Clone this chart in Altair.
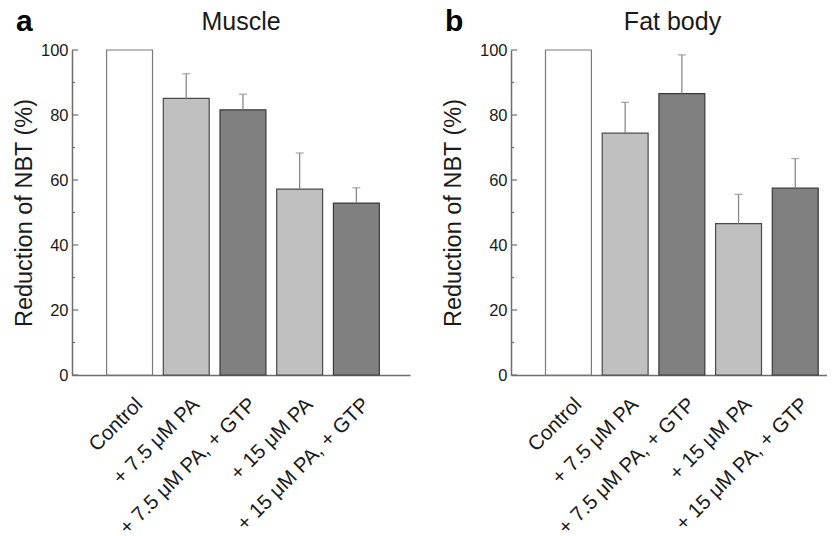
import altair as alt
import pandas as pd

categories = ["Control", "+ 7.5 μM PA", "+ 7.5 μM PA, + GTP", "+ 15 μM PA", "+ 15 μM PA, + GTP"]
groups = ["Control", "PA", "PA + GTP", "PA", "PA + GTP"]
muscle_mean = [100, 85.1, 81.6, 57.2, 52.9]
muscle_err = [0, 7.6, 4.8, 11.1, 4.7]
fat_mean = [100, 74.4, 86.6, 46.6, 57.5]
fat_err = [0, 9.5, 11.9, 9.0, 9.1]
major_ticks = [0, 20, 40, 60, 80, 100]
minor_ticks = [10, 30, 50, 70, 90]
group_names = ["Control", "PA", "PA + GTP"]
group_fill = ["#ffffff", "#c0c0c0", "#808080"]
group_stroke = ["#7a7a7a", "#4a4a4a", "#3a3a3a"]

FONT = "Liberation Sans"
TXT = "#1a1a1a"
AXC = "#6e6e6e"


def panel(title, letter, means, errs, width, pad_outer, align, title_pad, letter_x, title_x):
    df = pd.DataFrame({
        "cat": categories,
        "group": groups,
        "mean": means,
        "err": errs,
        "upper": [m + e for m, e in zip(means, errs)],
    })
    xscale = alt.Scale(domain=categories, paddingInner=0.19, paddingOuter=pad_outer, align=align)
    yscale = alt.Scale(domain=[0, 100], nice=False, zero=True)
    xaxis = alt.Axis(
        title=None, labelAngle=-45, labelAlign="right", labelBaseline="middle",
        labelFontSize=20.5, labelPadding=26, labelOffset=10, ticks=False,
        domainColor=AXC, domainWidth=1.5, labelColor=TXT, labelFont=FONT, labelLimit=400,
    )
    yaxis = alt.Axis(
        title="Reduction of NBT (%)", values=major_ticks, ticks=False, grid=False,
        labelFontSize=16.5, labelPadding=4, labelFont=FONT, labelColor=TXT,
        titleFontSize=23.5, titleFontWeight="normal", titleFont=FONT, titleColor=TXT,
        titlePadding=title_pad, domainColor=AXC, domainWidth=1.5,
    )
    x = alt.X("cat:N", scale=xscale, sort=categories, axis=xaxis)

    bars = alt.Chart(df).mark_bar(strokeWidth=1.2).encode(
        x=x,
        y=alt.Y("mean:Q", scale=yscale, axis=yaxis),
        fill=alt.Fill("group:N", scale=alt.Scale(domain=group_names, range=group_fill), legend=None),
        stroke=alt.Stroke("group:N", scale=alt.Scale(domain=group_names, range=group_stroke), legend=None),
    )
    err_line = alt.Chart(df).transform_filter("datum.err > 0").mark_rule(
        color="#8a8a8a", strokeWidth=1.3
    ).encode(x=x, y=alt.Y("mean:Q", scale=yscale, axis=yaxis), y2="upper:Q")
    err_cap = alt.Chart(df).transform_filter("datum.err > 0").mark_tick(
        color="#8a8a8a", thickness=1.3, size=8, orient="horizontal"
    ).encode(x=x, y=alt.Y("upper:Q", scale=yscale, axis=yaxis))

    maj = alt.Chart(pd.DataFrame({"v": major_ticks})).mark_rule(color=AXC, strokeWidth=1.2).encode(
        y=alt.Y("v:Q", scale=yscale, axis=yaxis), x=alt.value(0), x2=alt.value(6)
    )
    mnr = alt.Chart(pd.DataFrame({"v": minor_ticks})).mark_rule(color=AXC, strokeWidth=1.2).encode(
        y=alt.Y("v:Q", scale=yscale, axis=yaxis), x=alt.value(0), x2=alt.value(3)
    )
    let = alt.Chart(pd.DataFrame({"t": [letter]})).mark_text(
        font=FONT, fontSize=30, fontWeight="bold", align="left", baseline="alphabetic", color="#000"
    ).encode(text="t:N", x=alt.value(letter_x), y=alt.value(-19))
    ttl = alt.Chart(pd.DataFrame({"t": [title]})).mark_text(
        font=FONT, fontSize=25, align="center", baseline="alphabetic", color=TXT
    ).encode(text="t:N", x=alt.value(title_x), y=alt.value(-20))

    return alt.layer(bars, err_line, err_cap, maj, mnr, let, ttl).properties(
        width=width, height=325,
    )


pa = panel("Muscle", "a", muscle_mean, muscle_err, 338, 0.5755, 0.53, 4, -56, 169)
pb = panel("Fat body", "b", fat_mean, fat_err, 316, 0.3816, 0.797, 14, -66, 161.5)

chart = alt.hconcat(pa, pb, spacing=31).properties(
    padding={"left": 4, "top": -1, "right": 0, "bottom": 0}
).configure_view(stroke=None)

chart.save("out.html", embed_options={"renderer": "svg", "actions": False})
